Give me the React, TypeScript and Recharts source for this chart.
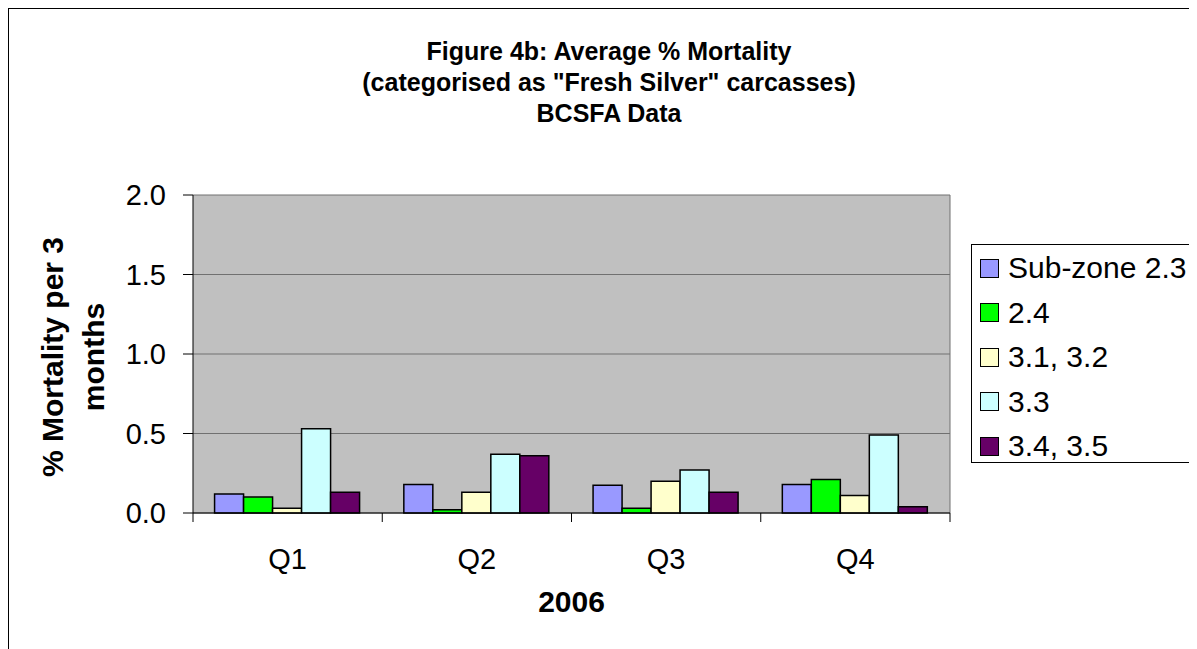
import React from "react";
import {
  BarChart,
  Bar,
  XAxis,
  YAxis,
  CartesianGrid,
  Legend,
} from "recharts";

const quarters = ["Q1", "Q2", "Q3", "Q4"];
const seriesNames = ["Sub-zone 2.3", "2.4", "3.1, 3.2", "3.3", "3.4, 3.5"];
const subZone23 = [0.12, 0.18, 0.175, 0.18];
const subZone24 = [0.1, 0.02, 0.03, 0.21];
const subZone31_32 = [0.03, 0.13, 0.2, 0.11];
const subZone33 = [0.53, 0.37, 0.27, 0.49];
const subZone34_35 = [0.13, 0.36, 0.13, 0.04];
const yTicks = [0, 0.5, 1.0, 1.5, 2.0];

const COLORS = ["#9999FF", "#00FF00", "#FFFFCC", "#CCFFFF", "#660066"];
const FONT = '"Liberation Sans", Arial, Helvetica, sans-serif';

const CHART_W = 1200;
const CHART_H = 640;
const PLOT_LEFT = 184;
const PLOT_RIGHT = 941;
const BAND = (PLOT_RIGHT - PLOT_LEFT) / quarters.length;

const seriesValues = [subZone23, subZone24, subZone31_32, subZone33, subZone34_35];
const keys = ["s23", "s24", "s31", "s33", "s34"];

const rows = quarters.map((q, i) => {
  const row: Record<string, string | number> = { quarter: q };
  keys.forEach((k, j) => {
    row[k] = seriesValues[j][i];
  });
  return row;
});

function QuarterTick(props: any) {
  const { x, y, payload, index } = props;
  const half = BAND / 2;
  return (
    <g>
      <line x1={x - half} x2={x - half} y1={y} y2={y + 9} stroke="#000" />
      {index === quarters.length - 1 && (
        <line x1={x + half} x2={x + half} y1={y} y2={y + 9} stroke="#000" />
      )}
      <text x={x} y={y + 56} textAnchor="middle" fontSize={29} fontFamily={FONT} fill="#000">
        {payload.value}
      </text>
    </g>
  );
}

function XTitle() {
  return (
    <text x={(PLOT_LEFT + PLOT_RIGHT) / 2} y={603} textAnchor="middle" fontSize={30} fontWeight="bold" fontFamily={FONT} fill="#000">
      2006
    </text>
  );
}

function YTitle() {
  const cy = 348;
  return (
    <g fontSize={30} fontWeight="bold" fontFamily={FONT} fill="#000">
      <text x={54} y={cy} textAnchor="middle" transform={`rotate(-90 54 ${cy})`}>
        % Mortality per 3
      </text>
      <text x={95} y={cy} textAnchor="middle" transform={`rotate(-90 95 ${cy})`}>
        months
      </text>
    </g>
  );
}

function LegendBox(props: any) {
  const { payload = [] } = props;
  const ordered = [...payload].sort(
    (a: any, b: any) => seriesNames.indexOf(a.value) - seriesNames.indexOf(b.value)
  );
  return (
    <div
      style={{
        boxSizing: "border-box",
        width: 250,
        height: 219,
        border: "1px solid #000",
        background: "#fff",
        paddingTop: 1,
        fontFamily: FONT,
      }}
    >
      {ordered.map((entry: any, i: number) => (
        <div key={i} style={{ display: "flex", alignItems: "center", height: 44.5 }}>
          <span
            style={{
              boxSizing: "border-box",
              display: "inline-block",
              width: 19,
              height: 19,
              border: "1.5px solid #000",
              background: entry.color,
              marginLeft: 8,
              marginRight: 9,
            }}
          />
          <span style={{ fontSize: 30, color: "#000", lineHeight: "34px" }}>{entry.value}</span>
        </div>
      ))}
    </div>
  );
}

export default function App() {
  return (
    <div
      style={{
        position: "relative",
        width: 1189,
        height: 640,
        borderLeft: "1.5px solid #000",
        borderTop: "1.5px solid #000",
        overflow: "hidden",
        background: "#fff",
      }}
    >
      <div
        style={{
          position: "absolute",
          left: 0,
          top: 27,
          width: CHART_W,
          textAlign: "center",
          fontFamily: FONT,
          fontWeight: "bold",
          fontSize: 25,
          lineHeight: "31px",
          color: "#000",
          zIndex: 2,
        }}
      >
        <div>Figure 4b: Average % Mortality</div>
        <div>(categorised as "Fresh Silver" carcasses)</div>
        <div>BCSFA Data</div>
      </div>
      <BarChart
        width={CHART_W}
        height={CHART_H}
        data={rows}
        margin={{ top: 186, right: 9, left: 124, bottom: 36 }}
        barCategoryGap="11.4%"
        barGap={0}
      >
        <CartesianGrid
          fill="#C0C0C0"
          stroke="#707070"
          strokeWidth={1}
          verticalCoordinatesGenerator={({ offset }: any) => [offset.left + offset.width]}
        />
        <XAxis
          dataKey="quarter"
          height={100}
          axisLine={{ stroke: "#000" }}
          tickLine={false}
          tickSize={0}
          tickMargin={0}
          tick={<QuarterTick />}
          label={<XTitle />}
        />
        <YAxis
          width={60}
          domain={[0, 2]}
          ticks={yTicks}
          interval={0}
          axisLine={{ stroke: "#000" }}
          tickLine={{ stroke: "#000" }}
          tickSize={10}
          tickMargin={17}
          tick={{ fontSize: 29, fontFamily: FONT, fill: "#000" }}
          tickFormatter={(v: number) => v.toFixed(1)}
          label={<YTitle />}
        />
        <Legend
          layout="vertical"
          align="right"
          verticalAlign="middle"
          width={250}
          height={219}
          itemSorter={(item: any) => seriesNames.indexOf(item.value)}
          wrapperStyle={{ left: 962, top: 235, width: 250, height: 219 }}
          content={<LegendBox />}
        />
        {keys.map((k, i) => (
          <Bar
            key={k}
            dataKey={k}
            name={seriesNames[i]}
            fill={COLORS[i]}
            stroke="#000"
            strokeWidth={1.5}
            legendType="square"
            isAnimationActive={false}
          />
        ))}
      </BarChart>
    </div>
  );
}
